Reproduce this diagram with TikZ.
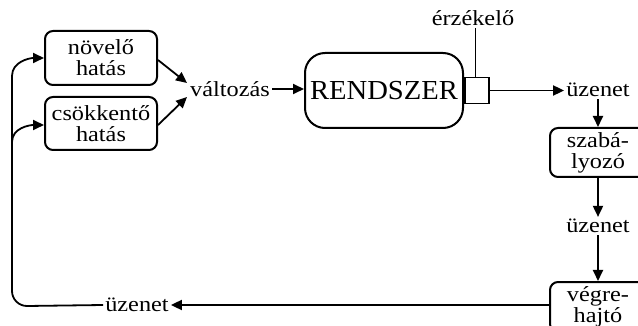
\documentclass[tikz,border=0pt]{standalone}
\usepackage{fontspec}
\setmainfont{Liberation Serif}[FakeStretch=1.13]
\newfontfamily\bigfont{Liberation Serif}[FakeStretch=1.04]
\usetikzlibrary{arrows.meta}

\tikzset{
  box/.style={draw, line width=2pt, rounded corners=8pt, align=center,
    inner sep=0pt, font=\fontsize{21.5}{21}\selectfont},
  lbl/.style={inner sep=2pt, font=\fontsize{21.5}{21}\selectfont},
  conn/.style={line width=1.8pt},
  arr/.style={conn, -{Triangle[length=11pt,width=10pt]}}
}

\begin{document}
\begin{tikzpicture}[x=1pt, y=-1pt]
  \clip (0,0) rectangle (638,326);
  \fill[white] (0,0) rectangle (638,326);

  % input effects
  \node[box, minimum width=112pt, minimum height=54pt] (inc) at (101,58) {növelő\\hatás};
  \node[box, minimum width=112pt, minimum height=53pt] (dec) at (101,123.5) {csökkentő\\hatás};

  % change and the system
  \node[lbl] (valt) at (230,89) {változás};
  \node[box, rounded corners=20pt, minimum width=158pt, minimum height=75pt,
        font=\bigfont\fontsize{27.5}{28}\selectfont] (sys) at (384,90.5) {RENDSZER};
  \node[draw, line width=1.8pt, minimum width=24pt, minimum height=26pt, inner sep=0pt,
        anchor=west] (sens) at (sys.east) {};
  \node[lbl] (erz) at (473,18) {érzékelő};

  % control loop on the right
  \node[lbl] (msg1) at (598,90) {üzenet};
  \node[box, minimum width=96pt, minimum height=49pt] (reg) at (598,152.5) {szabá-\\lyozó};
  \node[lbl] (msg2) at (598,226) {üzenet};
  \node[box, minimum width=96pt, minimum height=50pt] (act) at (598,307) {végre-\\hajtó};
  \node[lbl] (msg3) at (137,305) {üzenet};

  % connectors
  \draw[arr] ([yshift=-2pt]inc.east) -- (187,83);
  \draw[arr] ([yshift=-1.5pt]dec.east) -- (187,97);
  \draw[arr] (valt.east) -- (sys.west |- valt.east);
  \draw[conn] ([xshift=-1.5pt]sens.north) -- ([xshift=-1.5pt]sens.north |- erz.south);
  \draw[arr] (sens.east) -- (msg1.west |- sens.east);
  \draw[arr] (msg1.south) -- (reg.north);
  \draw[arr] (reg.south) -- (msg2.north);
  \draw[arr] (msg2.south) -- (act.north);
  \draw[arr] (act.west |- msg3.east) -- (msg3.east);

  % feedback path back to the inputs
  \coordinate (up) at (12,76);
  \coordinate (branch) at (12,142);
  \draw[arr] (msg3.west) -- (27,306) to[out=180,in=-90] (12,291) -- (up)
    to[out=90,in=180] (inc.west);
  \draw[arr] (branch) to[out=90,in=180] ([yshift=-1.5pt]dec.west);
\end{tikzpicture}
\end{document}
